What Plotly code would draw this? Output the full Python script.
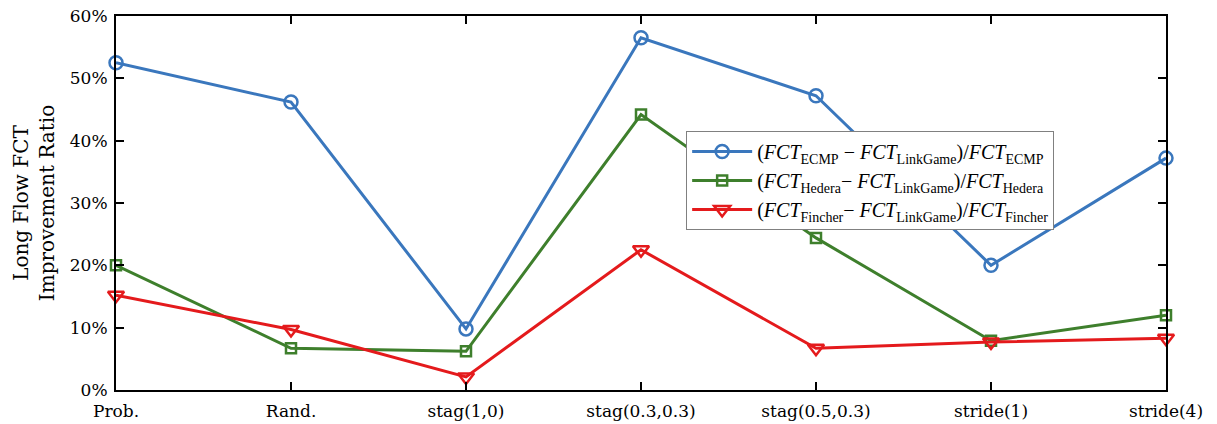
import plotly.graph_objects as go

categories = ["Prob.", "Rand.", "stag(1,0)", "stag(0.3,0.3)", "stag(0.5,0.3)", "stride(1)", "stride(4)"]
ecmp = [52.5, 46.2, 9.8, 56.5, 47.2, 20.0, 37.2]
hedera = [20.0, 6.7, 6.2, 44.2, 24.4, 7.9, 12.0]
fincher = [15.2, 9.7, 2.1, 22.5, 6.7, 7.7, 8.3]

names = [
    "(<i>FCT</i><sub>ECMP</sub> − <i>FCT</i><sub>LinkGame</sub>)/<i>FCT</i><sub>ECMP</sub>",
    "(<i>FCT</i><sub>Hedera</sub>− <i>FCT</i><sub>LinkGame</sub>)/<i>FCT</i><sub>Hedera</sub>",
    "(<i>FCT</i><sub>Fincher</sub>− <i>FCT</i><sub>LinkGame</sub>)/<i>FCT</i><sub>Fincher</sub>",
]
colors = ["#3a77bd", "#3e7f2c", "#e41a1c"]
symbols = ["circle-open", "square-open", "triangle-down-open"]
sizes = [13, 10, 14]

x = list(range(len(categories)))
fig = go.Figure()
for vals, nm, c, s, sz in zip([ecmp, hedera, fincher], names, colors, symbols, sizes):
    fig.add_trace(go.Scatter(
        x=x, y=vals, mode="lines+markers", name=nm,
        line=dict(color=c, width=3),
        marker=dict(symbol=s, size=sz, color=c, line=dict(width=2.5, color=c)),
        cliponaxis=False,
    ))

tick_font = "DejaVu Serif, serif"
legend_font = "Liberation Serif, serif"
fig.update_layout(
    width=1217, height=424,
    margin=dict(l=116, r=51, t=16, b=34),
    paper_bgcolor="white", plot_bgcolor="white",
    font=dict(family=tick_font, size=17, color="black"),
    showlegend=True,
    legend=dict(
        x=0.543, y=0.6925, xanchor="left", yanchor="top",
        bgcolor="white", bordercolor="#808080", borderwidth=1,
        font=dict(family=legend_font, size=20),
        tracegroupgap=0, itemwidth=60,
    ),
    xaxis=dict(
        tickmode="array", tickvals=x, ticktext=categories,
        range=[0, len(categories) - 1],
        showline=True, linecolor="black", linewidth=2, mirror="ticks",
        ticks="inside", ticklen=8, tickwidth=2, tickcolor="black",
        showgrid=False, zeroline=False, automargin=False,
        tickfont=dict(family=tick_font, size=17),
        ticklabelstandoff=5,
    ),
    yaxis=dict(
        range=[0, 60], tickvals=[0, 10, 20, 30, 40, 50, 60],
        ticktext=["0%", "10%", "20%", "30%", "40%", "50%", "60%"],
        showline=True, linecolor="black", linewidth=2, mirror="ticks",
        ticks="inside", ticklen=8, tickwidth=2, tickcolor="black",
        showgrid=False, zeroline=False, automargin=False,
        tickfont=dict(family=tick_font, size=17),
        ticklabelstandoff=3,
        title=dict(text="Long Flow FCT<br>Improvement Ratio", standoff=10,
                   font=dict(family=tick_font, size=20)),
    ),
)
fig.write_html("out.html")
